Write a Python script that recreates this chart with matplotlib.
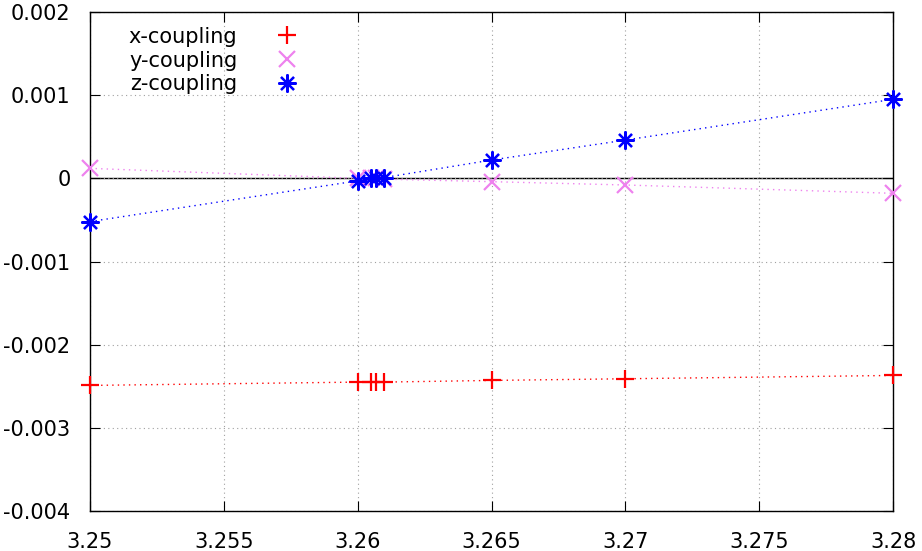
import matplotlib
matplotlib.use("Agg")
import matplotlib.pyplot as plt

x_vals = [3.25, 3.26, 3.2605, 3.2607, 3.261, 3.265, 3.27, 3.28]
x_coupling = [-0.00249, -0.00245, -0.00245, -0.00245, -0.00245, -0.00243, -0.00241, -0.00237]
y_coupling = [0.00012, 0.0000, 0.0000, 0.0000, -0.00001, -0.00004, -0.00008, -0.00018]
z_coupling = [-0.00052, -0.00003, 0.00000, 0.00001, 0.00001, 0.00022, 0.00046, 0.00095]

xticks = [3.25, 3.255, 3.26, 3.265, 3.27, 3.275, 3.28]
yticks = [-0.004, -0.003, -0.002, -0.001, 0, 0.001, 0.002]
ytick_labels = ["-0.004", "-0.003", "-0.002", "-0.001", "0", "0.001", "0.002"]

plt.rcParams['font.family'] = ['DejaVu Sans']
fig = plt.figure(figsize=(9.22, 5.51), dpi=100)
ax = fig.add_axes([90/922, 1 - 511/551, (893-90)/922, (511-12)/551])

ax.axhline(0, color='black', lw=1, zorder=1)

dots = (0, (1, 3))
ax.plot(x_vals, x_coupling, color='red', ls=dots, lw=1, marker='+', ms=13, mew=1.6, label='x-coupling', zorder=3, clip_on=False)
ax.plot(x_vals, y_coupling, color='violet', ls=dots, lw=1, marker='x', ms=11, mew=1.6, label='y-coupling', zorder=3, clip_on=False)
ax.plot(x_vals, z_coupling, color='blue', ls=dots, lw=1, marker=(8, 2, 0), ms=13, mew=1.6, label='z-coupling', zorder=3, clip_on=False)

ax.set_xlim(3.25, 3.28)
ax.set_ylim(-0.004, 0.002)
ax.set_xticks(xticks)
ax.set_xticklabels([str(t) for t in xticks])
ax.set_yticks(yticks)
ax.set_yticklabels(ytick_labels)
ax.grid(True, color='#a0a0a0', ls=(0, (1, 3)), lw=0.8)
ax.tick_params(direction='in', top=True, right=True, length=7, labelsize=15)
ax.tick_params(axis='x', pad=15)
ax.tick_params(axis='y', pad=14)
for s in ax.spines.values():
    s.set_linewidth(1)

leg = ax.legend(loc='upper left', bbox_to_anchor=(0.025, 1.008), frameon=False, markerfirst=False,
                fontsize=15, handlelength=2.0, handletextpad=1.36, labelspacing=0.18)
for t in leg.get_texts():
    t.set_ha('right')
for h in leg.legend_handles:
    h.set_linestyle('none')

fig.savefig('out.png', dpi=100)
